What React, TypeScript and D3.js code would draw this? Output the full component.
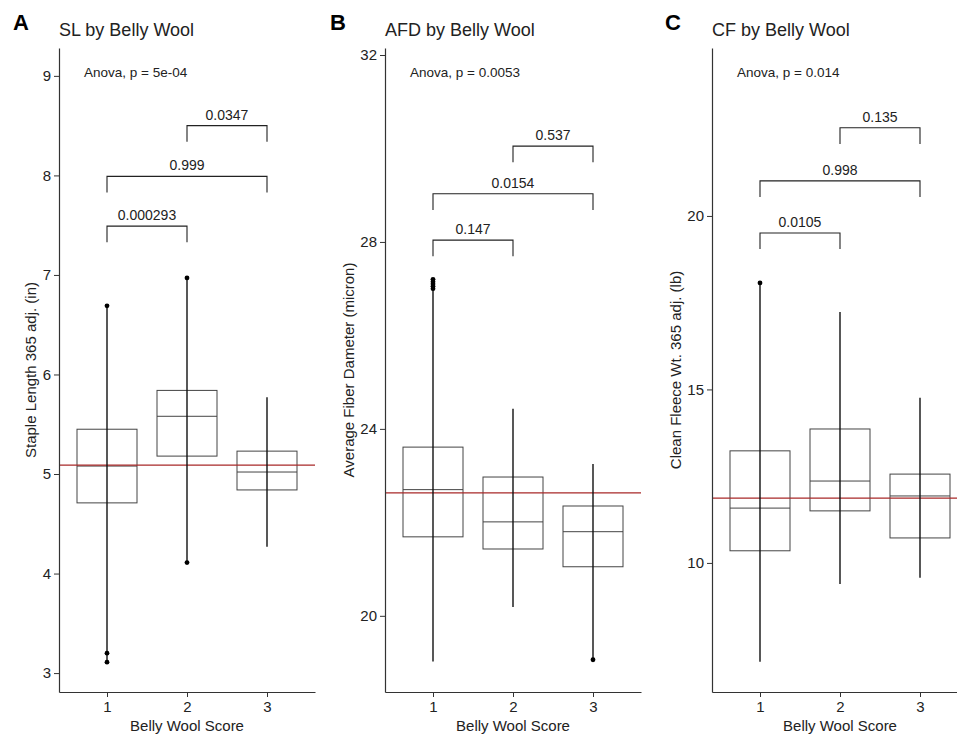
import React, { useRef, useEffect } from 'react';
import * as d3 from 'd3';

// categories (belly wool score)
const scores = [1, 2, 3];
const pairs = [[1, 2], [1, 3], [2, 3]];

// SL panel
const slWhiskerLow = [3.11, 4.11, 4.27];
const slQ1 = [4.71, 5.18, 4.84];
const slMedian = [5.08, 5.58, 5.02];
const slQ3 = [5.45, 5.84, 5.23];
const slWhiskerHigh = [6.69, 6.97, 5.77];
const slOutliers = [[6.69, 3.2, 3.11], [6.97, 4.11], []];
const slMean = 5.09;
const slBracketP = ['0.000293', '0.999', '0.0347'];
const slBracketY = [7.49, 7.99, 8.5];
const slTicks = [3, 4, 5, 6, 7, 8, 9];

// AFD panel
const afdWhiskerLow = [19.02, 20.19, 19.06];
const afdQ1 = [21.69, 21.43, 21.05];
const afdMedian = [22.7, 22.01, 21.8];
const afdQ3 = [23.61, 22.97, 22.35];
const afdWhiskerHigh = [27.2, 24.43, 23.25];
const afdOutliers = [[27.2, 27.15, 27.1, 27.05, 27.0], [], [19.06]];
const afdMean = 22.63;
const afdBracketP = ['0.147', '0.0154', '0.537'];
const afdBracketY = [28.04, 29.03, 30.05];
const afdTicks = [20, 24, 28, 32];

// CF panel
const cfWhiskerLow = [7.15, 9.39, 9.57];
const cfQ1 = [10.35, 11.5, 10.72];
const cfMedian = [11.58, 12.36, 11.93];
const cfQ3 = [13.23, 13.86, 12.56];
const cfWhiskerHigh = [18.07, 17.23, 14.76];
const cfOutliers = [[18.07], [], []];
const cfMean = 11.87;
const cfBracketP = ['0.0105', '0.998', '0.135'];
const cfBracketY = [19.51, 21.01, 22.54];
const cfTicks = [10, 15, 20];

const panels = [
  {
    letter: 'A', title: 'SL by Belly Wool', anova: 'Anova, p = 5e-04',
    yLabel: 'Staple Length 365 adj. (in)', left: 59, yLabelX: 32, domain: [2.81, 9.28],
    lo: slWhiskerLow, q1: slQ1, med: slMedian, q3: slQ3, hi: slWhiskerHigh, out: slOutliers,
    mean: slMean, bp: slBracketP, by: slBracketY, ticks: slTicks, letterX: 13,
  },
  {
    letter: 'B', title: 'AFD by Belly Wool', anova: 'Anova, p = 0.0053',
    yLabel: 'Average Fiber Dameter (micron)', left: 385, yLabelX: 350, domain: [18.37, 32.15],
    lo: afdWhiskerLow, q1: afdQ1, med: afdMedian, q3: afdQ3, hi: afdWhiskerHigh, out: afdOutliers,
    mean: afdMean, bp: afdBracketP, by: afdBracketY, ticks: afdTicks, letterX: 330,
  },
  {
    letter: 'C', title: 'CF by Belly Wool', anova: 'Anova, p = 0.014',
    yLabel: 'Clean Fleece Wt. 365 adj. (lb)', left: 712, yLabelX: 677, domain: [6.28, 24.84],
    lo: cfWhiskerLow, q1: cfQ1, med: cfMedian, q3: cfQ3, hi: cfWhiskerHigh, out: cfOutliers,
    mean: cfMean, bp: cfBracketP, by: cfBracketY, ticks: cfTicks, letterX: 665,
  },
];

const App = () => {
  const ref = useRef(null);

  useEffect(() => {
    const top = 48;
    const bottom = 692;
    const panelW = 256;
    const font = '"Liberation Sans", Arial, sans-serif';

    d3.select(ref.current).select('svg').remove();

    const svg = d3.select(ref.current)
      .append('svg')
      .attr('width', 957)
      .attr('height', 735)
      .style('position', 'absolute')
      .style('left', 0)
      .style('top', 0)
      .style('background', '#fff')
      .style('font-family', font);

    panels.forEach(p => {
      const x = d3.scaleLinear().domain([0.4, 3.6]).range([p.left, p.left + panelW]);
      const y = d3.scaleLinear().domain(p.domain).range([bottom, top]);
      const g = svg.append('g');
      const boxW = 0.375;

      // panel letter and title
      g.append('text').attr('x', p.letterX).attr('y', 30)
        .attr('font-size', 22).attr('font-weight', 'bold').text(p.letter);
      g.append('text').attr('x', p.left).attr('y', 36)
        .attr('font-size', 18).attr('fill', '#222').text(p.title);

      // boxes
      scores.forEach((s, i) => {
        g.append('rect')
          .attr('x', x(s - boxW))
          .attr('y', y(p.q3[i]))
          .attr('width', x(s + boxW) - x(s - boxW))
          .attr('height', y(p.q1[i]) - y(p.q3[i]))
          .attr('fill', 'none')
          .attr('stroke', '#444')
          .attr('stroke-width', 1);
        g.append('line')
          .attr('x1', x(s - boxW)).attr('x2', x(s + boxW))
          .attr('y1', y(p.med[i])).attr('y2', y(p.med[i]))
          .attr('stroke', '#444').attr('stroke-width', 1);
      });

      // mean line
      g.append('line')
        .attr('x1', p.left).attr('x2', Math.min(p.left + panelW, 957))
        .attr('y1', y(p.mean)).attr('y2', y(p.mean))
        .attr('stroke', '#a82828').attr('stroke-width', 1.3);

      // whiskers and points
      scores.forEach((s, i) => {
        g.append('line')
          .attr('x1', x(s)).attr('x2', x(s))
          .attr('y1', y(p.lo[i])).attr('y2', y(p.hi[i]))
          .attr('stroke', '#111').attr('stroke-width', 1.4);
        p.out[i].forEach(v => {
          g.append('circle').attr('cx', x(s)).attr('cy', y(v)).attr('r', 2.4).attr('fill', '#000');
        });
      });

      // brackets
      const tip = (p.domain[1] - p.domain[0]) * 0.025;
      pairs.forEach((pr, i) => {
        const yy = y(p.by[i]);
        const yt = y(p.by[i] - tip);
        g.append('path')
          .attr('d', `M${x(pr[0])},${yt}V${yy}H${x(pr[1])}V${yt}`)
          .attr('fill', 'none').attr('stroke', '#222').attr('stroke-width', 1.1);
        g.append('text')
          .attr('x', (x(pr[0]) + x(pr[1])) / 2).attr('y', yy - 6)
          .attr('text-anchor', 'middle').attr('font-size', 14).attr('fill', '#222')
          .text(p.bp[i]);
      });

      // anova label
      g.append('text').attr('x', p.left + 25).attr('y', 77)
        .attr('font-size', 13.5).attr('fill', '#222').text(p.anova);

      // y axis
      const yAxis = g.append('g')
        .attr('transform', `translate(${p.left},0)`)
        .call(d3.axisLeft(y).tickValues(p.ticks).tickFormat(d3.format('d')).tickSize(5).tickPadding(3).tickSizeOuter(0));
      yAxis.select('.domain').attr('stroke', '#333').attr('stroke-width', 1.2);
      yAxis.selectAll('.tick line').attr('stroke', '#333');
      yAxis.selectAll('text').attr('font-size', 15).attr('fill', '#222').attr('font-family', font);

      // x axis
      const xAxis = g.append('g')
        .attr('transform', `translate(0,${bottom})`)
        .call(d3.axisBottom(x).tickValues(scores).tickFormat(d3.format('d')).tickSize(5).tickPadding(4).tickSizeOuter(0));
      xAxis.select('.domain').attr('stroke', '#333').attr('stroke-width', 1.2);
      xAxis.selectAll('.tick line').attr('stroke', '#333');
      xAxis.selectAll('text').attr('font-size', 15).attr('fill', '#222').attr('font-family', font);

      // axis titles
      g.append('text')
        .attr('x', x(2)).attr('y', 731)
        .attr('text-anchor', 'middle').attr('font-size', 15).attr('fill', '#222')
        .text('Belly Wool Score');
      g.append('text')
        .attr('transform', `translate(${p.yLabelX},${(top + bottom) / 2}) rotate(-90)`)
        .attr('text-anchor', 'middle').attr('dominant-baseline', 'middle')
        .attr('font-size', 15).attr('fill', '#222')
        .text(p.yLabel);
    });
  }, []);

  return <div ref={ref}></div>;
};

export default App;
